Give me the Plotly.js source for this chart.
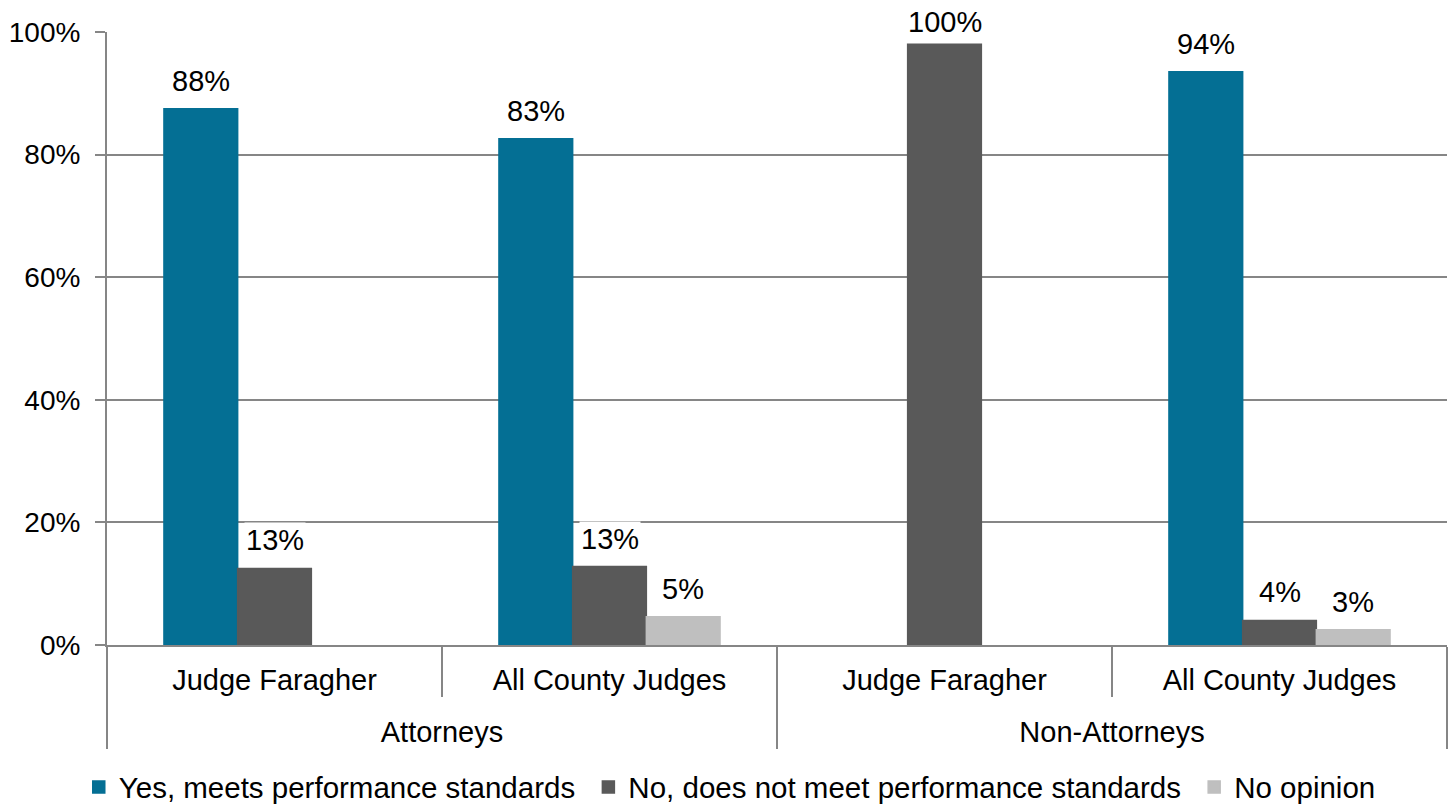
<!DOCTYPE html>
<html>
<head>
<meta charset="utf-8">
<script src="https://cdn.plot.ly/plotly-3.0.1.min.js"></script>
<style>html,body{margin:0;padding:0;background:#fff;}#chart{width:1453px;height:805px;}</style>
</head>
<body>
<div id="chart"></div>
<script>
const groups = ['Attorneys', 'Attorneys', 'Non-Attorneys', 'Non-Attorneys'];
const judges = ['Judge Faragher', 'All County Judges', 'Judge Faragher', 'All County Judges'];
const seriesNames = ['Yes, meets performance standards', 'No, does not meet performance standards', 'No opinion'];
const yesValues = [87.5, 82.6, null, 93.5];
const noValues = [12.5, 12.8, 98.0, 4.0];
const noOpinionValues = [null, 4.6, null, 2.5];
const yesLabels = ['88%', '83%', '', '94%'];
const noLabels = ['13%', '13%', '100%', '4%'];
const noOpinionLabels = ['', '5%', '', '3%'];
const colors = ['#046F94', '#595959', '#BFBFBF'];

const font = 'Liberation Sans, Arial, sans-serif';
const fs = 29;
const bargap = 0.34;
const series = [yesValues, noValues, noOpinionValues];
const labels = [yesLabels, noLabels, noOpinionLabels];

// tick labels: the outer level gets small leading lines so the two rows sit apart as in the reference
const big = s => "<span style='font-size:" + fs + "px'>" + s + "</span>";
const xInner = judges.map(big);
const xOuter = groups.map(g => '<br><br>' + big(g));

const traces = series.map((vals, i) => ({
  type: 'bar',
  name: seriesNames[i] + '\u00a0',
  x: [xOuter, xInner],
  y: vals,
  marker: {color: colors[i], line: {color: colors[i], width: 1.5}},
  hoverinfo: 'skip'
}));

const nSeries = series.length;
const barW = (1 - bargap) / nSeries;
const annotations = [];
series.forEach((vals, i) => {
  vals.forEach((v, j) => {
    if (v === null || !labels[i][j]) return;
    annotations.push({
      xref: 'x2', yref: 'y',
      x: j + (i - (nSeries - 1) / 2) * barW,
      y: v,
      text: labels[i][j],
      showarrow: false,
      yanchor: 'bottom',
      yshift: v > 95 ? 4 : 10,
      bgcolor: '#ffffff',
      borderpad: 1,
      font: {family: font, size: fs, color: '#000'}
    });
  });
});

const layout = {
  width: 1453, height: 805,
  margin: {l: 107, r: 6, t: 32, b: 160},
  paper_bgcolor: '#fff', plot_bgcolor: '#fff',
  barmode: 'group', bargap: bargap, bargroupgap: 0,
  font: {family: font, size: fs, color: '#000'},
  showlegend: true,
  legend: {
    orientation: 'h', xref: 'container', yref: 'container',
    x: 0.505, xanchor: 'center', y: 0.022, yanchor: 'middle',
    font: {family: font, size: 29.5, color: '#000'},
    itemwidth: 30, tracegroupgap: 0
  },
  xaxis: {
    type: 'multicategory', automargin: false,
    showline: true, linecolor: '#868686', linewidth: 2,
    ticks: 'outside', ticklen: 50, tickcolor: '#868686', tickwidth: 2,
    showdividers: true, dividercolor: '#868686', dividerwidth: 2,
    tickfont: {family: font, size: 16, color: '#000'},
    ticklabelstandoff: 24,
    showgrid: false, zeroline: false,
    range: [-0.5, 3.5]
  },
  xaxis2: {
    overlaying: 'x', range: [-0.5, 3.5], visible: false, fixedrange: true
  },
  yaxis: {
    range: [0, 100], dtick: 20, ticksuffix: '%', automargin: false,
    showline: true, linecolor: '#868686', linewidth: 2,
    ticks: 'outside', ticklen: 10, tickcolor: '#868686', tickwidth: 2,
    showgrid: true, gridcolor: '#868686', gridwidth: 2,
    zeroline: false, ticklabelstandoff: 9,
    tickfont: {family: font, size: 28, color: '#000'}
  },
  annotations: annotations
};

Plotly.newPlot('chart', traces, layout, {displayModeBar: false, staticPlot: true});
</script>
</body>
</html>
